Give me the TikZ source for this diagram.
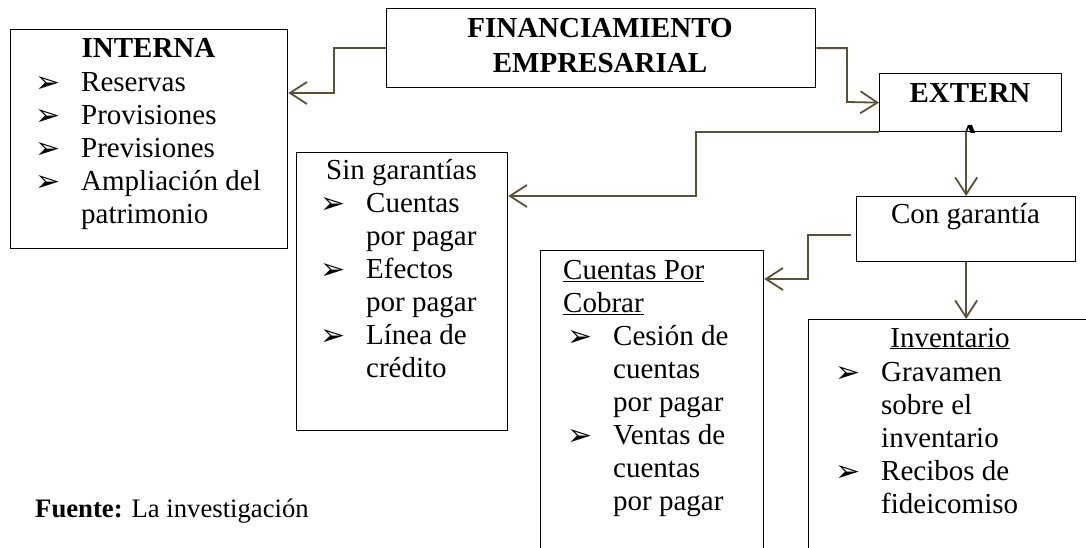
\documentclass[tikz,border=0pt]{standalone}
\usepackage{fontspec}
\setmainfont{Liberation Serif}
\newfontfamily\dingfont{DejaVu Sans}
\usetikzlibrary{arrows.meta}
\definecolor{linkcol}{HTML}{5A5236}
\newcommand{\bul}{\makebox[46pt][l]{\raisebox{-1.5pt}{\dingfont\fontsize{30}{30}\selectfont ➢}}}
\newcommand{\ind}{\hspace*{46pt}}
\newcommand{\tstrut}{\rule{0pt}{22pt}}
\tikzset{
  box/.style={draw, line width=1.3pt, anchor=north west, inner sep=0pt},
  txt/.style={inner sep=0pt, align=left, font=\fontsize{29}{33}\selectfont},
  head/.style={inner sep=0pt, align=center, font=\fontsize{29}{35}\selectfont\bfseries},
  link/.style={draw=linkcol, line width=1.8pt, -{Straight Barb[length=17pt,width=22pt]}},
}
\begin{document}
\begin{tikzpicture}[x=1pt,y=-1pt]
    \useasboundingbox (0,0) rectangle (1086,548);
    % boxes
    \node[box, minimum width=277pt, minimum height=219pt] (interna) at (10,29) {};
    \node[box, minimum width=429pt, minimum height=79pt] (fin) at (386,8) {};
    \node[box, minimum width=182pt, minimum height=58pt] (externa) at (879,73) {};
    \node[box, minimum width=211pt, minimum height=278pt] (singar) at (296,152) {};
    \node[box, minimum width=219pt, minimum height=65pt] (congar) at (856,196) {};
    \node[box, minimum width=223pt, minimum height=310pt] (cxc) at (540,250) {};
    \node[box, minimum width=290pt, minimum height=250pt] (inv) at (808,319) {};
    % texts
    \node[head, anchor=north] (fin-t) at (600,15) {\tstrut FINANCIAMIENTO\\EMPRESARIAL};
    \begin{scope}
        \clip (externa.south west) rectangle (externa.north east);
        \node[head, anchor=north, font=\fontsize{29}{42}\selectfont\bfseries] (externa-t) at (970,80) {\tstrut EXTERN\\A};
    \end{scope}
    \node[head, anchor=base] (interna-h) at (148.5,58) {INTERNA};
    \node[txt, anchor=north west] (interna-t) at (35,69)
        {\tstrut\bul Reservas\\\bul Provisiones\\\bul Previsiones\\\bul Ampliación del\\\ind patrimonio};
    \node[txt, anchor=base] (singar-h) at (401.5,180) {Sin garantías};
    \node[txt, anchor=north west] (singar-t) at (320,190)
        {\tstrut\bul Cuentas\\\ind por pagar\\\bul Efectos\\\ind por pagar\\\bul Línea de\\\ind crédito};
    \node[txt, anchor=base] (congar-h) at (965.5,223) {Con garantía};
    \node[txt, anchor=north west] (cxc-h) at (563,257) {\tstrut\underline{Cuentas Por}\\\underline{Cobrar}};
    \node[txt, anchor=north west] (cxc-t) at (567,323)
        {\tstrut\bul Cesión de\\\ind cuentas\\\ind por pagar\\\bul Ventas de\\\ind cuentas\\\ind por pagar};
    \node[txt, anchor=base] (inv-h) at (950,347) {\underline{Inventario}};
    \node[txt, anchor=north west] (inv-t) at (835,359)
        {\tstrut\bul Gravamen\\\ind sobre el\\\ind inventario\\\bul Recibos de\\\ind fideicomiso};
    \node[inner sep=0pt, anchor=base west, font=\fontsize{26.7}{30}\selectfont] (fuente) at (35,517)
        {\textbf{Fuente:} La investigación};
    % connectors
    \draw[link] (fin.west) -| (334,93) -- ([yshift=-64pt]interna.north east);
    \draw[link] (fin.east) -| (847,102) -- (externa.west);
    \draw[link] (externa.south west) -| (696,196) -- ([yshift=-44pt]singar.north east);
    \draw[link] (externa.south -| congar.north) -- (congar.north);
    \draw[link] ([xshift=-5pt,yshift=-5.5pt]congar.west) -| (808,279) -- ([yshift=-29pt]cxc.north east);
    \draw[link] (congar.south) -- (congar.south |- inv.north);
\end{tikzpicture}
\end{document}
